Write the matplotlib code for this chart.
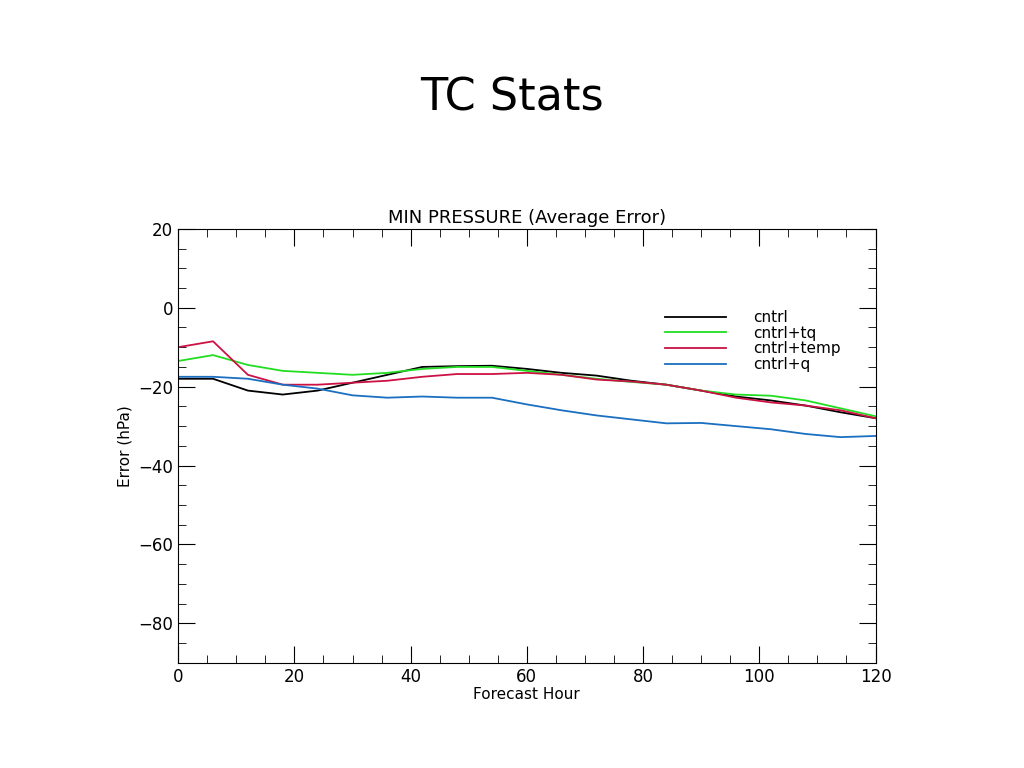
import matplotlib
matplotlib.use("Agg")
import matplotlib.pyplot as plt
from matplotlib.ticker import MultipleLocator

hours = list(range(0, 121, 6))
cntrl = [-18, -18, -21, -22, -21, -19, -17, -15, -14.8, -14.7, -15.5, -16.5, -17.2, -18.5, -19.5, -21, -22.5, -23.5, -24.8, -26.5, -28]
cntrl_tq = [-13.5, -12, -14.5, -16, -16.5, -17, -16.5, -15.5, -15, -15, -16, -17, -18, -18.8, -19.5, -21, -22, -22.3, -23.5, -25.5, -27.5]
cntrl_temp = [-10, -8.5, -17, -19.5, -19.5, -19, -18.5, -17.5, -16.8, -16.8, -16.5, -17, -18.2, -18.7, -19.5, -21, -22.8, -24, -24.8, -26, -28]
cntrl_q = [-17.5, -17.5, -18, -19.5, -20.5, -22.2, -22.8, -22.5, -22.8, -22.8, -24.5, -26, -27.3, -28.3, -29.3, -29.2, -30, -30.8, -32, -32.8, -32.5]
labels = ["cntrl", "cntrl+tq", "cntrl+temp", "cntrl+q"]
colors = ["black", "#22dd22", "#cc1144", "#1a6fc0"]

fig = plt.figure(figsize=(10.24, 7.68), dpi=100)
fig.text(0.5, 0.873, "TC Stats", ha="center", va="center", fontsize=32, family="Liberation Sans Narrow")
ax = fig.add_axes([0.174, 0.137, 0.681, 0.565])
for y, lab, c in zip([cntrl, cntrl_tq, cntrl_temp, cntrl_q], labels, colors):
    ax.plot(hours, y, color=c, lw=1.3, label=lab)
ax.set_xlim(0, 120)
ax.set_ylim(-90, 20)
ax.set_xticks(range(0, 121, 20))
ax.set_yticks(range(-80, 21, 20))
ax.set_yticklabels(["\u221280", "\u221260", "\u221240", "\u221220", "0", "20"])
ax.xaxis.set_minor_locator(MultipleLocator(5))
ax.yaxis.set_minor_locator(MultipleLocator(5))
ax.tick_params(which="both", direction="in", top=True, right=True, labelsize=12)
ax.tick_params(which="major", length=12)
ax.tick_params(which="minor", length=6)
ax.set_title("MIN PRESSURE (Average Error)", fontsize=13, pad=4)
ax.set_xlabel("Forecast Hour", fontsize=11, labelpad=1)
ax.set_ylabel("Error (hPa)", fontsize=11)
ax.legend(loc="upper right", bbox_to_anchor=(0.97, 0.845), frameon=False, fontsize=11,
          handlelength=4, handletextpad=1.8, labelspacing=0.05)
fig.savefig("out.png")
